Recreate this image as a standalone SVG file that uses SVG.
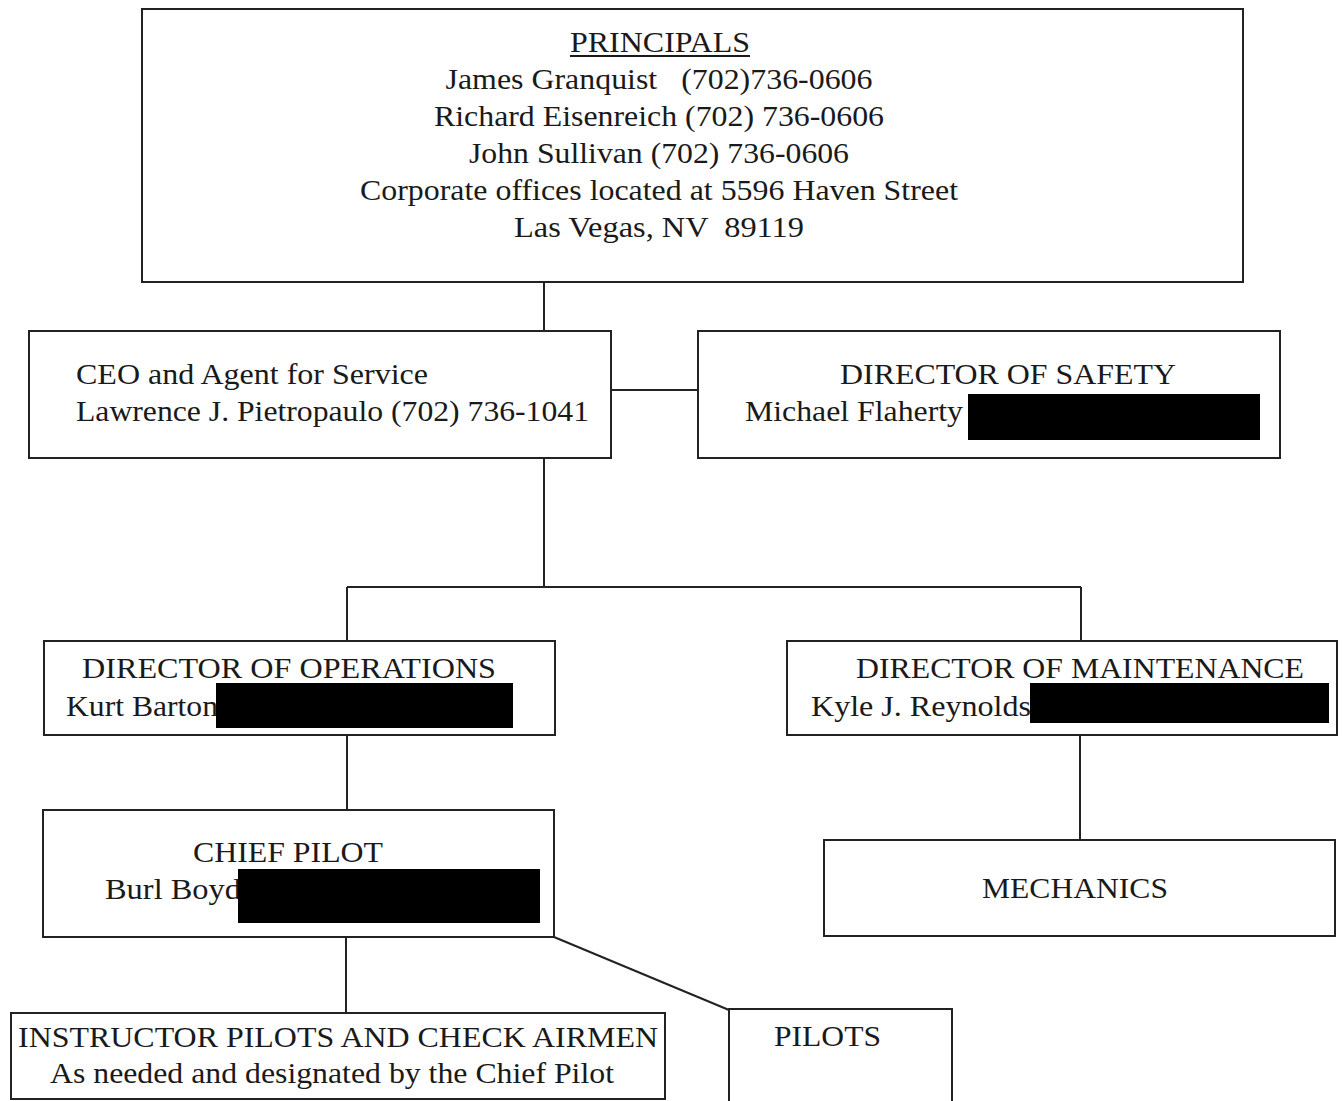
<svg xmlns="http://www.w3.org/2000/svg" width="1343" height="1101" viewBox="0 0 1343 1101">
<style>
.box{fill:#fff;stroke:#222;stroke-width:2}
.ln{stroke:#222;stroke-width:2;fill:none}
text{font-family:"Liberation Serif","Times New Roman",serif;font-size:30px;fill:#1a1a1a}
.c{text-anchor:middle}
.red{fill:#000}
</style>
<rect width="1343" height="1101" fill="#fff"/>
<g id="connectors">
<line class="ln" x1="544" y1="282" x2="544" y2="331"/>
<line class="ln" x1="611" y1="390" x2="698" y2="390"/>
<line class="ln" x1="544" y1="458" x2="544" y2="587"/>
<line class="ln" x1="347" y1="587" x2="1081" y2="587"/>
<line class="ln" x1="347" y1="587" x2="347" y2="641"/>
<line class="ln" x1="1081" y1="587" x2="1081" y2="641"/>
<line class="ln" x1="347" y1="735" x2="347" y2="810"/>
<line class="ln" x1="1080" y1="735" x2="1080" y2="840"/>
<line class="ln" x1="346" y1="937" x2="346" y2="1013"/>
<line class="ln" x1="554" y1="937" x2="729" y2="1010"/>
</g>
<g id="principals">
<rect class="box" x="142" y="9" width="1101" height="273"/>
<text class="c" x="660" y="52" textLength="180" lengthAdjust="spacingAndGlyphs">PRINCIPALS</text>
<line x1="570" y1="56" x2="750" y2="56" stroke="#1a1a1a" stroke-width="2"/>
<text class="c" x="659" y="89" textLength="427" lengthAdjust="spacingAndGlyphs" xml:space="preserve">James Granquist   (702)736-0606</text>
<text class="c" x="659" y="126" textLength="450" lengthAdjust="spacingAndGlyphs">Richard Eisenreich (702) 736-0606</text>
<text class="c" x="659" y="163" textLength="380" lengthAdjust="spacingAndGlyphs">John Sullivan (702) 736-0606</text>
<text class="c" x="659" y="200" textLength="598" lengthAdjust="spacingAndGlyphs">Corporate offices located at 5596 Haven Street</text>
<text class="c" x="659" y="237" textLength="290" lengthAdjust="spacingAndGlyphs" xml:space="preserve">Las Vegas, NV  89119</text>
</g>
<g id="ceo">
<rect class="box" x="29" y="331" width="582" height="127"/>
<text x="76" y="384" textLength="352" lengthAdjust="spacingAndGlyphs">CEO and Agent for Service</text>
<text x="76" y="421" textLength="513" lengthAdjust="spacingAndGlyphs">Lawrence J. Pietropaulo (702) 736-1041</text>
</g>
<g id="safety">
<rect class="box" x="698" y="331" width="582" height="127"/>
<text x="840" y="384" textLength="336" lengthAdjust="spacingAndGlyphs">DIRECTOR OF SAFETY</text>
<text x="745" y="421" textLength="218" lengthAdjust="spacingAndGlyphs">Michael Flaherty</text>
<rect class="red" x="968" y="394" width="292" height="46"/>
</g>
<g id="operations">
<rect class="box" x="44" y="641" width="511" height="94"/>
<text x="82" y="678" textLength="414" lengthAdjust="spacingAndGlyphs">DIRECTOR OF OPERATIONS</text>
<text x="66" y="716" textLength="152" lengthAdjust="spacingAndGlyphs">Kurt Barton</text>
<rect class="red" x="216" y="683" width="297" height="45"/>
</g>
<g id="maintenance">
<rect class="box" x="787" y="641" width="550" height="94"/>
<text x="856" y="678" textLength="448" lengthAdjust="spacingAndGlyphs">DIRECTOR OF MAINTENANCE</text>
<text x="811" y="716" textLength="220" lengthAdjust="spacingAndGlyphs">Kyle J. Reynolds</text>
<rect class="red" x="1030" y="683" width="299" height="40"/>
</g>
<g id="chief-pilot">
<rect class="box" x="43" y="810" width="511" height="127"/>
<text x="193" y="862" textLength="190" lengthAdjust="spacingAndGlyphs">CHIEF PILOT</text>
<text x="105" y="899" textLength="136" lengthAdjust="spacingAndGlyphs">Burl Boyd</text>
<rect class="red" x="238" y="869" width="302" height="54"/>
</g>
<g id="mechanics">
<rect class="box" x="824" y="840" width="511" height="96"/>
<text x="982" y="898" textLength="186" lengthAdjust="spacingAndGlyphs">MECHANICS</text>
</g>
<g id="instructors">
<rect class="box" x="11" y="1013" width="654" height="86"/>
<text x="18" y="1047" textLength="640" lengthAdjust="spacingAndGlyphs">INSTRUCTOR PILOTS AND CHECK AIRMEN</text>
<text x="50" y="1083" textLength="564" lengthAdjust="spacingAndGlyphs">As needed and designated by the Chief Pilot</text>
</g>
<g id="pilots">
<rect class="box" x="729" y="1009" width="223" height="100"/>
<text x="774" y="1046" textLength="107" lengthAdjust="spacingAndGlyphs">PILOTS</text>
</g>
</svg>
